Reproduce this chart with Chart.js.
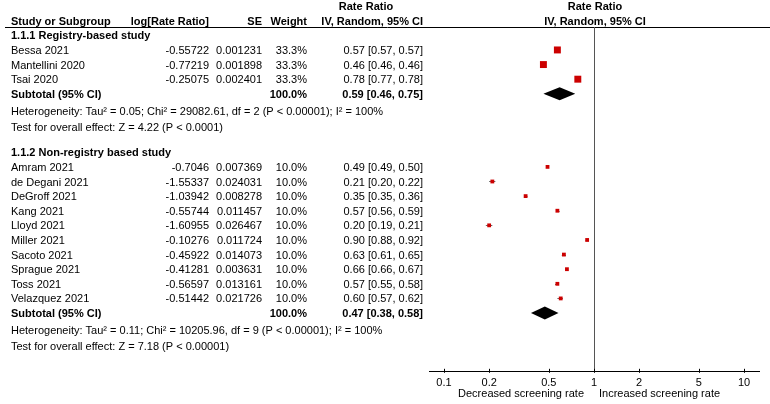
<!DOCTYPE html>
<html><head><meta charset="utf-8">
<script src="https://cdn.jsdelivr.net/npm/chart.js@4.4.1/dist/chart.umd.min.js"></script>
<style>html,body{margin:0;padding:0;background:#fff;}#wrap{width:770px;height:404px;position:relative;}</style>
</head><body><div id="wrap"><canvas id="c" width="770" height="404"></canvas></div>
<script>
// ---------- data ----------
const groupTitles = ['1.1.1 Registry-based study', '1.1.2 Non-registry based study'];
const g1Studies = ['Bessa 2021', 'Mantellini 2020', 'Tsai 2020'];
const g1LogRR = ['-0.55722', '-0.77219', '-0.25075'];
const g1SE = ['0.001231', '0.001898', '0.002401'];
const g1Weight = [33.3, 33.3, 33.3];
const g1RR = [0.57, 0.46, 0.78];
const g1Lo = [0.57, 0.46, 0.77];
const g1Hi = [0.57, 0.46, 0.78];

const g2Studies = ['Amram 2021', 'de Degani 2021', 'DeGroff 2021', 'Kang 2021', 'Lloyd 2021', 'Miller 2021', 'Sacoto 2021', 'Sprague 2021', 'Toss 2021', 'Velazquez 2021'];
const g2LogRR = ['-0.7046', '-1.55337', '-1.03942', '-0.55744', '-1.60955', '-0.10276', '-0.45922', '-0.41281', '-0.56597', '-0.51442'];
const g2SE = ['0.007369', '0.024031', '0.008278', '0.011457', '0.026467', '0.011724', '0.014073', '0.003631', '0.013161', '0.021726'];
const g2Weight = [10.0, 10.0, 10.0, 10.0, 10.0, 10.0, 10.0, 10.0, 10.0, 10.0];
const g2RR = [0.49, 0.21, 0.35, 0.57, 0.20, 0.90, 0.63, 0.66, 0.57, 0.60];
const g2Lo = [0.49, 0.20, 0.35, 0.56, 0.19, 0.88, 0.61, 0.66, 0.55, 0.57];
const g2Hi = [0.50, 0.22, 0.36, 0.59, 0.21, 0.92, 0.65, 0.67, 0.58, 0.62];

const subtotalWeight = [100.0, 100.0];
const subtotalRR = [0.59, 0.47];
const subtotalLo = [0.46, 0.38];
const subtotalHi = [0.75, 0.58];
const heterogeneityText = [
  'Heterogeneity: Tau\u00B2 = 0.05; Chi\u00B2 = 29082.61, df = 2 (P < 0.00001); I\u00B2 = 100%',
  'Heterogeneity: Tau\u00B2 = 0.11; Chi\u00B2 = 10205.96, df = 9 (P < 0.00001); I\u00B2 = 100%'
];
const overallText = [
  'Test for overall effect: Z = 4.22 (P < 0.0001)',
  'Test for overall effect: Z = 7.18 (P < 0.00001)'
];
const xTicks = [0.1, 0.2, 0.5, 1, 2, 5, 10];
const headerCols = ['Study or Subgroup', 'log[Rate Ratio]', 'SE', 'Weight', 'IV, Random, 95% CI'];
const headerTop = 'Rate Ratio';
const axisLabels = ['Decreased screening rate', 'Increased screening rate'];

// ---------- build rows ----------
const groups = [
  {studies: g1Studies, logrr: g1LogRR, se: g1SE, w: g1Weight, rr: g1RR, lo: g1Lo, hi: g1Hi},
  {studies: g2Studies, logrr: g2LogRR, se: g2SE, w: g2Weight, rr: g2RR, lo: g2Lo, hi: g2Hi}
];
const studyRows = [], subRows = [], textRows = [];
let r = -1;
groups.forEach((g, gi) => {
  textRows.push({row: r, type: 'title', text: groupTitles[gi], dy: 0});
  r++;
  g.studies.forEach((s, i) => {
    studyRows.push({row: r, name: s, logrr: g.logrr[i], se: g.se[i], w: g.w[i], rr: g.rr[i], lo: g.lo[i], hi: g.hi[i]});
    r++;
  });
  subRows.push({row: r, w: subtotalWeight[gi], rr: subtotalRR[gi], lo: subtotalLo[gi], hi: subtotalHi[gi]});
  r++;
  textRows.push({row: r, type: 'plain', text: heterogeneityText[gi], dy: 2.5}); r++;
  textRows.push({row: r, type: 'plain', text: overallText[gi], dy: 4}); r++;
  r++;
});

const FONT = "'Liberation Sans', Arial, sans-serif";
const fmt = v => v.toFixed(2);
const ciStr = (a, b, c) => fmt(a) + ' [' + fmt(b) + ', ' + fmt(c) + ']';

const COL = {name: 11, logrr: 209, se: 262, weight: 307, ci: 423, ciHeadCenter: 366};

const forestPlugin = {
  id: 'forest',
  beforeDatasetsDraw(chart) {
    const ctx = chart.ctx, xs = chart.scales.x, ys = chart.scales.y, ca = chart.chartArea;
    ctx.save();
    // header line
    ctx.strokeStyle = '#000'; ctx.lineWidth = 1;
    ctx.beginPath(); ctx.moveTo(5, ca.top + 0.5); ctx.lineTo(770, ca.top + 0.5); ctx.stroke();
    // null line
    const x1 = Math.round(xs.getPixelForValue(1)) + 0.5;
    ctx.strokeStyle = '#555';
    ctx.beginPath(); ctx.moveTo(x1, ca.top); ctx.lineTo(x1, ca.bottom); ctx.stroke();
    // axis tick marks (crossing the axis line)
    ctx.strokeStyle = '#000';
    xTicks.forEach(v => {
      const x = Math.round(xs.getPixelForValue(v)) + 0.5;
      ctx.beginPath(); ctx.moveTo(x, ca.bottom - 3); ctx.lineTo(x, ca.bottom + 1); ctx.stroke();
    });
    // CI lines
    ctx.strokeStyle = '#666'; ctx.lineWidth = 1;
    studyRows.forEach(s => {
      const y = Math.round(ys.getPixelForValue(s.row)) + 0.5;
      ctx.beginPath(); ctx.moveTo(xs.getPixelForValue(s.lo), y); ctx.lineTo(xs.getPixelForValue(s.hi), y); ctx.stroke();
    });
    // diamonds
    ctx.fillStyle = '#000';
    subRows.forEach(s => {
      const y = ys.getPixelForValue(s.row);
      ctx.beginPath();
      ctx.moveTo(xs.getPixelForValue(s.lo), y);
      ctx.lineTo(xs.getPixelForValue(s.rr), y - 6.5);
      ctx.lineTo(xs.getPixelForValue(s.hi), y);
      ctx.lineTo(xs.getPixelForValue(s.rr), y + 6.5);
      ctx.closePath(); ctx.fill();
    });
    ctx.restore();
  },
  afterDraw(chart) {
    const ctx = chart.ctx, xs = chart.scales.x, ys = chart.scales.y, ca = chart.chartArea;
    ctx.save();
    ctx.fillStyle = '#000';
    ctx.textBaseline = 'middle';
    const Y = row => ys.getPixelForValue(row) + 1;
    const put = (t, x, y, align, bold) => {
      ctx.font = (bold ? 'bold ' : '') + '11px ' + FONT;
      ctx.textAlign = align; ctx.fillText(t, x, y);
    };
    // headers
    const hy = Y(-2), hy2 = Y(-3);
    put(headerCols[0], COL.name, hy, 'left', true);
    put(headerCols[1], COL.logrr, hy, 'right', true);
    put(headerCols[2], COL.se, hy, 'right', true);
    put(headerCols[3], COL.weight, hy, 'right', true);
    put(headerCols[4], COL.ci, hy, 'right', true);
    put(headerTop, COL.ciHeadCenter, hy2, 'center', true);
    const xc = xs.getPixelForValue(1);
    put(headerTop, xc + 1, hy2, 'center', true);
    put(headerCols[4], xc + 1, hy, 'center', true);
    // group titles & texts
    textRows.forEach(t => put(t.text, COL.name, Y(t.row) + t.dy, 'left', t.type === 'title'));
    // studies
    studyRows.forEach(s => {
      const y = Y(s.row);
      put(s.name, COL.name, y, 'left', false);
      put(s.logrr, COL.logrr, y, 'right', false);
      put(s.se, COL.se, y, 'right', false);
      put(s.w.toFixed(1) + '%', COL.weight, y, 'right', false);
      put(ciStr(s.rr, s.lo, s.hi), COL.ci, y, 'right', false);
    });
    subRows.forEach(s => {
      const y = Y(s.row);
      put('Subtotal (95% CI)', COL.name, y, 'left', true);
      put(s.w.toFixed(1) + '%', COL.weight, y, 'right', true);
      put(ciStr(s.rr, s.lo, s.hi), COL.ci, y, 'right', true);
    });
    // axis side labels
    const by = ca.bottom + 22;
    put(axisLabels[0], xc - 10, by, 'right', false);
    put(axisLabels[1], xc + 5, by, 'left', false);
    ctx.restore();
  }
};

new Chart(document.getElementById('c'), {
  type: 'scatter',
  data: {
    datasets: [{
      data: studyRows.map(s => ({x: s.rr, y: s.row})),
      pointStyle: 'rect',
      pointRadius: studyRows.map(s => 0.85 * Math.sqrt(s.w)),
      pointHoverRadius: studyRows.map(s => 0.85 * Math.sqrt(s.w)),
      backgroundColor: '#cc0000',
      borderWidth: 0,
      clip: false
    }]
  },
  options: {
    responsive: false,
    animation: false,
    events: [],
    layout: {padding: {left: 429, right: 11, top: 27, bottom: 12}},
    plugins: {legend: {display: false}, tooltip: {enabled: false}},
    scales: {
      x: {
        type: 'logarithmic',
        min: Math.pow(10, -1.1), max: Math.pow(10, 1.1),
        afterBuildTicks: s => { s.ticks = xTicks.map(v => ({value: v})); },
        ticks: {callback: v => String(v), font: {family: FONT, size: 11}, color: '#000', padding: 2, autoSkip: false, maxRotation: 0},
        grid: {display: false, drawOnChartArea: false, drawTicks: true, tickLength: 3, color: '#000'},
        border: {display: true, color: '#000', width: 1}
      },
      y: {
        type: 'linear', display: false, reverse: true, min: -1.57, max: 22.02
      }
    }
  },
  plugins: [forestPlugin]
});
</script></body></html>
